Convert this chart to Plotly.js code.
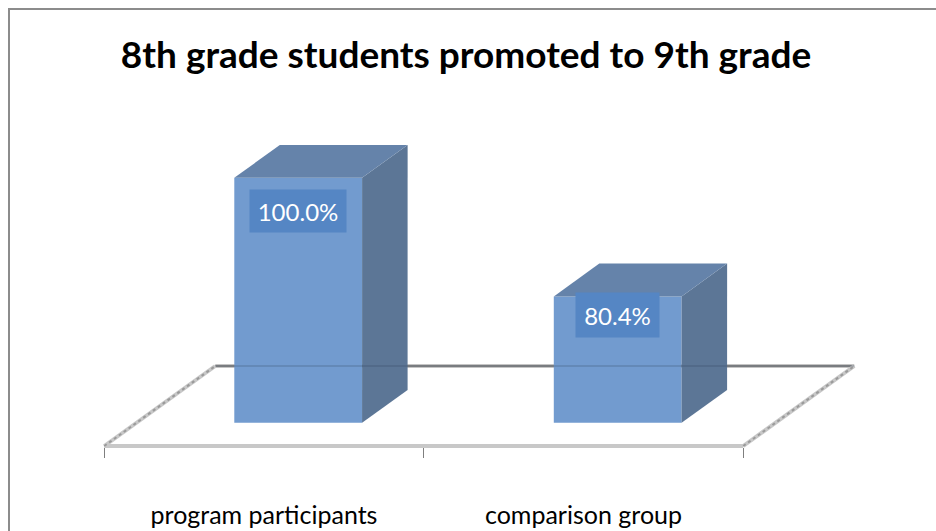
<!DOCTYPE html>
<html>
<head>
<meta charset="utf-8">
<script src="https://cdn.plot.ly/plotly-3.0.1.min.js"></script>
<style>
html,body{margin:0;padding:0;background:#fff;}
#chart{width:936px;height:531px;}
</style>
</head>
<body>
<div id="chart"></div>
<script>
// ---- data ----
const categories = ["program participants", "comparison group"];
const values = [100.0, 80.4];
const valueLabels = ["100.0%", "80.4%"];
const chartTitle = "8th grade students promoted to 9th grade";

// ---- layout / projection constants ----
const W = 936, H = 531;
const plotBottomPx = 458;           // plot area bottom (px from top)
const floorFrontPx = 446;           // pixel y of value-axis minimum at front plane
const catX0 = 264, catStep = 319.5; // pixel x of first category and spacing
const vMin = 59.5;                  // value axis minimum (floor)
const pxPerUnit = 6.049;            // pixels per value unit
const depthDxPx = 111, depthDyPx = 80;
const DX = depthDxPx / catStep;
const DY = depthDyPx / pxPerUnit;
const f0 = 0.29, f1 = 0.70;         // bar depth (fraction of floor depth)
const halfW = 0.2;
const barShift = 2 / catStep;

const xRange = [-catX0 / catStep, (W - catX0) / catStep];
const yRange = [vMin - (plotBottomPx - floorFrontPx) / pxPerUnit, vMin + floorFrontPx / pxPerUnit];

function proj(c, v, d) { return [c + d * DX, v + d * DY]; }
function poly(pts) {
  const xs = [], ys = [];
  pts.forEach(p => { const q = proj(p[0], p[1], p[2]); xs.push(q[0]); ys.push(q[1]); });
  xs.push(xs[0]); ys.push(ys[0]);
  return {x: xs, y: ys};
}

const colFront = "#729bcf", colTop = "#6583aa", colSide = "#5c7696", colBox = "#5586c4";

const traces = [];
categories.forEach((cat, i) => {
  const v = values[i];
  const c = i + barShift;
  const side = poly([[c + halfW, vMin, f0], [c + halfW, vMin, f1], [c + halfW, v, f1], [c + halfW, v, f0]]);
  const top = poly([[c - halfW, v, f0], [c + halfW, v, f0], [c + halfW, v, f1], [c - halfW, v, f1]]);
  [[side, colSide], [top, colTop]].forEach(([p, col]) => {
    traces.push({type: "scatter", mode: "lines", x: p.x, y: p.y, fill: "toself",
      fillcolor: col, line: {width: 0, color: col}, hoverinfo: "skip", showlegend: false});
  });
});
// front faces as a bar trace
traces.push({
  type: "bar",
  x: categories.map((c, i) => i + barShift + f0 * DX),
  y: values.map(v => v - vMin),
  base: values.map(() => vMin + f0 * DY),
  width: 2 * halfW,
  marker: {color: colFront, line: {width: 0}},
  hoverinfo: "skip", showlegend: false
});

// floor outline
const nCat = categories.length;
const FL = proj(-0.5, vMin, 0), FR = proj(nCat - 0.5, vMin, 0);
const BL = proj(-0.5, vMin, 1), BR = proj(nCat - 0.5, vMin, 1);
function seg(a, b, line, layer) {
  return {type: "line", xref: "x", yref: "y", x0: a[0], y0: a[1], x1: b[0], y1: b[1], line: line, layer: layer || "below"};
}
const shapes = [
  seg(BL, BR, {color: "#8c8c8c", width: 3}),
  seg(FL, FR, {color: "#c8c8c8", width: 4}),
  seg(FL, BL, {color: "#c8c8c8", width: 4}),
  seg(FR, BR, {color: "#c8c8c8", width: 4}),
  seg(FL, BL, {color: "#9a9a9a", width: 2, dash: "dot"}),
  seg(FR, BR, {color: "#9a9a9a", width: 2, dash: "dot"}),
  seg(BL, BR, {color: "rgba(40,55,80,0.18)", width: 2}, "above"),
  // outer chart frame
  {type: "rect", xref: "paper", yref: "paper", x0: 9 / W, x1: 1.1,
   y0: -0.3, y1: 1 - 9 / plotBottomPx, line: {color: "#8c8c8c", width: 2}, fillcolor: "rgba(0,0,0,0)", layer: "above"}
];

const labelShift = [-33, -19];
const boxW = [96, 83], boxH = [42, 44];
const annotations = categories.map((c, i) => {
  const p = proj(i + barShift, values[i], f0);
  return {x: p[0], y: p[1], xref: "x", yref: "y", text: valueLabels[i], showarrow: false,
    yshift: labelShift[i], xanchor: "center", yanchor: "middle",
    bgcolor: colBox, borderpad: 0, width: boxW[i], height: boxH[i],
    font: {family: "Lato, 'Open Sans', sans-serif", size: 24, color: "#ffffff"}};
});

const layout = {
  width: W, height: H,
  margin: {l: 0, r: 0, t: 0, b: H - plotBottomPx, pad: 0},
  paper_bgcolor: "#ffffff", plot_bgcolor: "#ffffff",
  showlegend: false,
  barmode: "overlay",
  title: {text: "<b>" + chartTitle + "</b>", x: 466 / W, xanchor: "center",
          y: 1 - 55 / H, yanchor: "middle", yref: "container",
          font: {family: "Lato, 'Open Sans', sans-serif", size: 37, color: "#000000"}},
  xaxis: {range: xRange, showgrid: false, zeroline: false, showline: false,
          tickmode: "array", tickvals: categories.map((c, i) => i), ticktext: categories,
          ticks: "", ticklabelstandoff: 40,
          tickfont: {family: "Lato, 'Open Sans', sans-serif", size: 25, color: "#000000"},
          minor: {ticks: "inside", tick0: -0.5, dtick: 1, ticklen: 10, tickcolor: "#7f7f7f", tickwidth: 1, showgrid: false},
          fixedrange: true},
  yaxis: {range: yRange, visible: false, fixedrange: true},
  shapes: shapes,
  annotations: annotations
};

Plotly.newPlot("chart", traces, layout, {staticPlot: true, displayModeBar: false});
</script>
</body>
</html>
